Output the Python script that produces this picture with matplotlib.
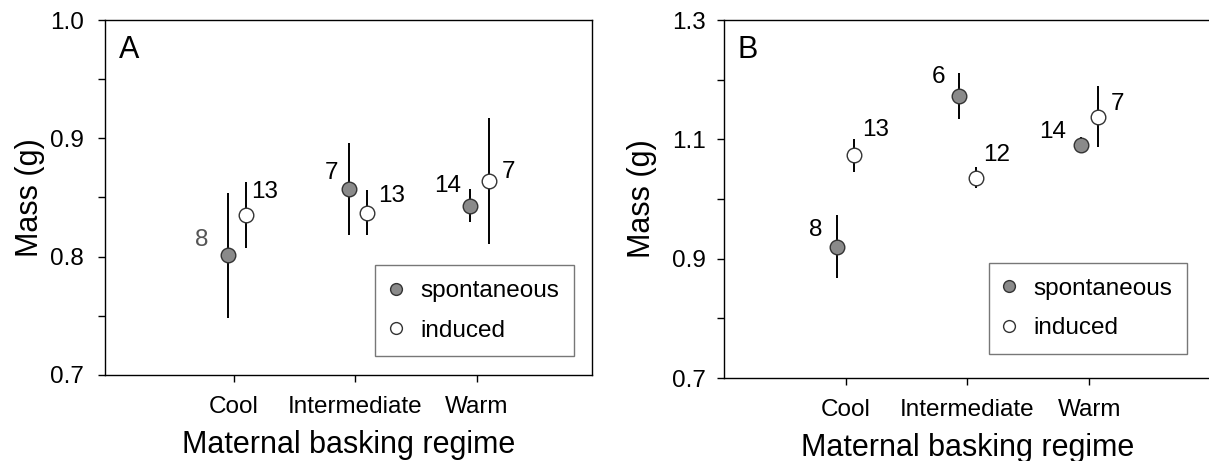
import matplotlib
matplotlib.use("Agg")
import matplotlib.pyplot as plt
from matplotlib.lines import Line2D

plt.rcParams['font.family'] = ['Liberation Sans', 'DejaVu Sans']

# ---- data ----
regimes = ['Cool', 'Intermediate', 'Warm']

# panel A
a_spont = [0.801, 0.857, 0.843]
a_spont_err = [0.053, 0.039, 0.014]
a_ind = [0.835, 0.837, 0.864]
a_ind_err = [0.028, 0.019, 0.053]
a_spont_n = ['8', '7', '14']
a_ind_n = ['13', '13', '7']
a_yticks = [0.7, 0.8, 0.9, 1.0]
a_yminor = [0.75, 0.85, 0.95]

# panel B
b_spont = [0.920, 1.173, 1.091]
b_spont_err = [0.053, 0.039, 0.013]
b_ind = [1.073, 1.036, 1.138]
b_ind_err = [0.028, 0.017, 0.051]
b_spont_n = ['8', '6', '14']
b_ind_n = ['13', '12', '7']
b_yticks = [0.7, 0.9, 1.1, 1.3]
b_yminor = [0.8, 1.0, 1.2]

fig = plt.figure(figsize=(12.09, 4.61), dpi=100)
axA = fig.add_axes([0.0868, 0.1866, 0.4028, 0.770])
axB = fig.add_axes([0.5988, 0.1800, 0.4028, 0.7766])

pt = 0.72  # px -> pt at 100 dpi
SPONT_FC = '#8a8a8a'
EDGE = '#333333'


def panel(ax, spont, spont_err, ind, ind_err, spont_n, ind_n, offs, xlim, ylim,
          yticks, yminor, letter, spont_lab_offs, ind_lab_offs, n_colors,
          ytick_pad, ylabel_pad, leg_anchor):
    pos = [1, 2, 3]
    xs = [p + offs[0] for p in pos]
    xi = [p + offs[1] for p in pos]
    ax.errorbar(xs, spont, yerr=spont_err, fmt='o', ecolor='black',
                elinewidth=1.4, capsize=0, markersize=10.5, markerfacecolor=SPONT_FC,
                markeredgecolor=EDGE, markeredgewidth=1.0, zorder=3)
    ax.errorbar(xi, ind, yerr=ind_err, fmt='o', ecolor='black',
                elinewidth=1.4, capsize=0, markersize=10.5, markerfacecolor='white',
                markeredgecolor=EDGE, markeredgewidth=1.0, zorder=3)
    for x, y, n, o, c in zip(xs, spont, spont_n, spont_lab_offs, n_colors):
        ax.annotate(n, (x, y), xytext=(o[0] * pt, o[1] * pt), textcoords='offset points',
                    ha='center', va='center', fontsize=17.5, color=c)
    for x, y, n, o in zip(xi, ind, ind_n, ind_lab_offs):
        ax.annotate(n, (x, y), xytext=(o[0] * pt, o[1] * pt), textcoords='offset points',
                    ha='center', va='center', fontsize=17.5, color='black')

    ax.set_xlim(*xlim)
    ax.set_ylim(*ylim)
    ax.set_xticks(pos)
    ax.set_xticklabels(regimes, fontsize=17.5)
    ax.set_yticks(yticks)
    ax.set_yticklabels(['%.1f' % t for t in yticks], fontsize=17.5)
    ax.set_yticks(yminor, minor=True)
    ax.tick_params(axis='both', which='both', direction='out', length=5, width=1)
    ax.tick_params(axis='y', pad=ytick_pad)
    ax.tick_params(axis='x', pad=10)
    ax.set_xlabel('Maternal basking regime', fontsize=22, labelpad=9)
    ax.set_ylabel('Mass (g)', fontsize=22, labelpad=ylabel_pad)
    for s in ax.spines.values():
        s.set_linewidth(1.0)
    ax.text(0.028, 0.915, letter, transform=ax.transAxes, fontsize=22, ha='left', va='center')

    handles = [
        Line2D([], [], linestyle='none', marker='o', markersize=8.5,
               markerfacecolor=SPONT_FC, markeredgecolor=EDGE, markeredgewidth=1.0),
        Line2D([], [], linestyle='none', marker='o', markersize=8.5,
               markerfacecolor='white', markeredgecolor=EDGE, markeredgewidth=1.0),
    ]
    leg = ax.legend(handles, ['spontaneous', 'induced'], loc='lower right',
                    bbox_to_anchor=leg_anchor, fontsize=17.5,
                    frameon=True, fancybox=False, handletextpad=0.75, labelspacing=0.72,
                    borderpad=0.6, handlelength=0.5, borderaxespad=0)
    leg.get_frame().set_edgecolor('#555555')
    leg.get_frame().set_linewidth(1.0)
    return leg


panel(axA, a_spont, a_spont_err, a_ind, a_ind_err, a_spont_n, a_ind_n,
      offs=(-0.05, 0.10), xlim=(-0.06, 3.95), ylim=(0.7, 1.0),
      yticks=a_yticks, yminor=a_yminor, letter='A',
      spont_lab_offs=[(-26, 15), (-18, 16), (-23, 20)],
      ind_lab_offs=[(19, 23), (24, 17), (20, 9)],
      n_colors=['#555555', 'black', 'black'],
      ytick_pad=10, ylabel_pad=4, leg_anchor=(0.963, 0.053))

panel(axB, b_spont, b_spont_err, b_ind, b_ind_err, b_spont_n, b_ind_n,
      offs=(-0.07, 0.07), xlim=(0.0, 4.0), ylim=(0.7, 1.3),
      yticks=b_yticks, yminor=b_yminor, letter='B',
      spont_lab_offs=[(-21, 17), (-20, 19), (-28, 13)],
      ind_lab_offs=[(21, 25), (21, 23), (20, 13)],
      n_colors=['black', 'black', 'black'],
      ytick_pad=8, ylabel_pad=11, leg_anchor=(0.951, 0.067))

fig.savefig('out.png', dpi=100)
